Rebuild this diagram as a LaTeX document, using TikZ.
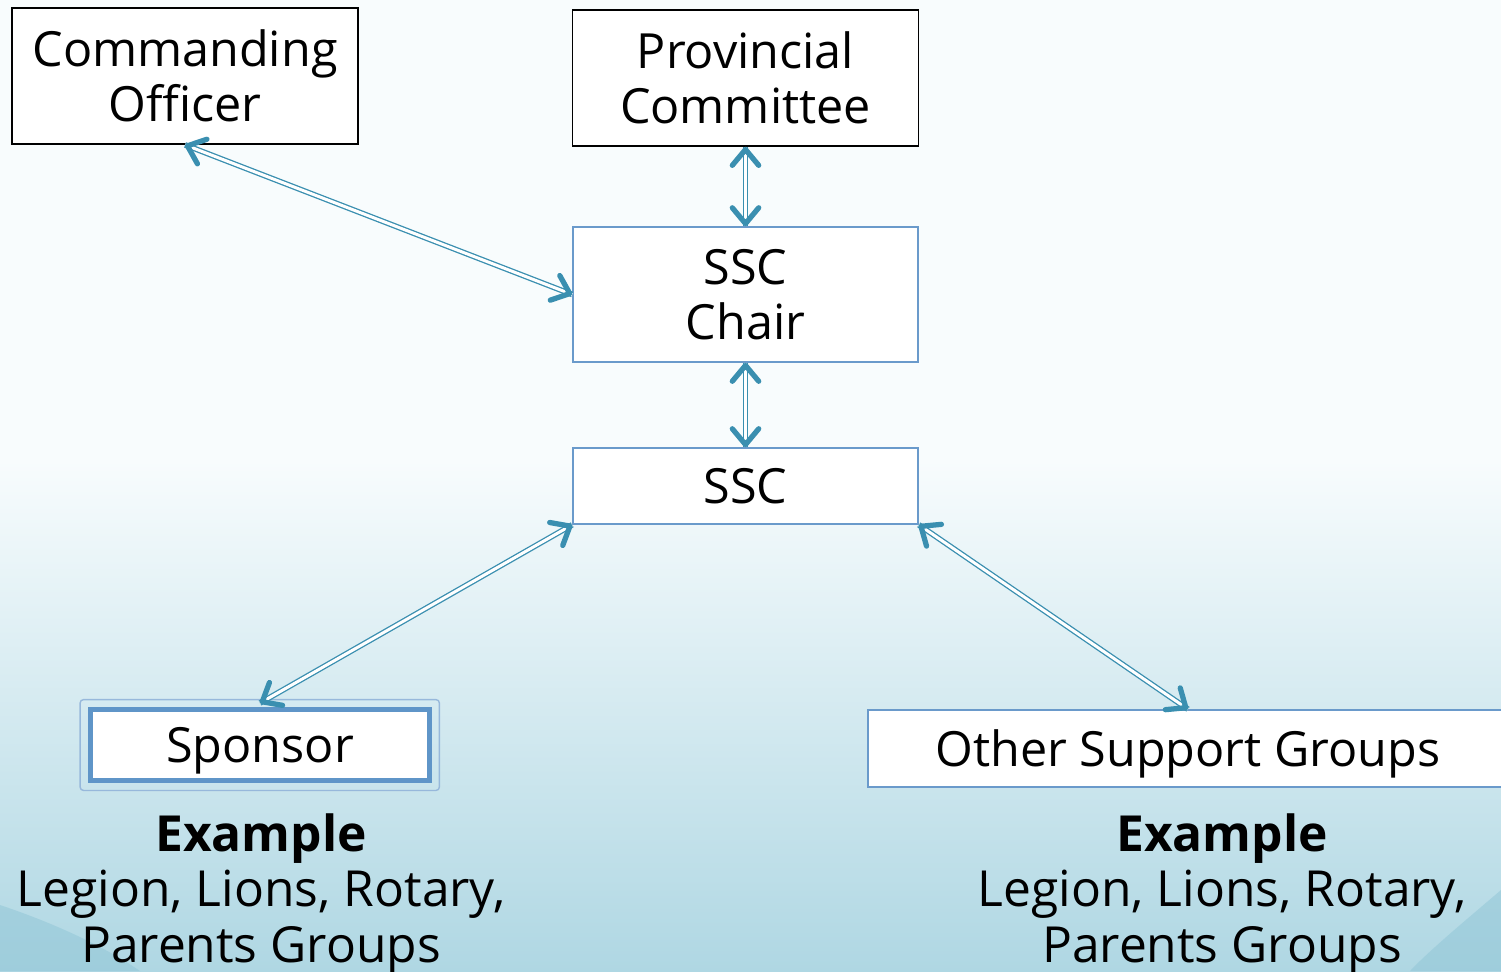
\documentclass[tikz,border=0pt]{standalone}
\usepackage{fontspec}
\setmainfont{Open Sans}
\usetikzlibrary{arrows.meta,positioning}
\definecolor{linkblue}{HTML}{3A8FB0}
\definecolor{boxblue}{HTML}{6A9ACB}
\definecolor{sponsorblue}{HTML}{5F95C8}
\definecolor{skytop}{HTML}{F8FCFD}
\definecolor{skybottom}{HTML}{AFD7E3}
\definecolor{swoosh}{HTML}{8FC5D6}

\begin{document}
\begin{tikzpicture}[x=0.02cm,y=-0.02cm,
  font=\fontsize{27.6}{31.5}\selectfont,
  place/.style={rectangle,fill=white,inner sep=0pt,align=center},
  blackbox/.style={place,draw=black,line width=1pt,minimum width=6.92cm,minimum height=2.72cm},
  bluebox/.style={place,draw=boxblue,line width=0.9pt,minimum width=6.9cm},
  link/.style={tips,linkblue,
    {Straight Barb[length=9pt,width=15pt,line width=3pt,round]}-{Straight Barb[length=9pt,width=15pt,line width=3pt,round]},
    preaction={draw=linkblue,double=white,double distance=1.7pt,line width=0.75pt,-}},
  note/.style={align=center,inner sep=0pt,font=\fontsize{28.3}{31.5}\selectfont}]
	% background
	\useasboundingbox (0,0) rectangle (1501,971);
	\clip (0,0) rectangle (1501,971);
	\fill[skytop] (0,0) rectangle (1501,460);
	\shade[top color=skytop,bottom color=skybottom] (0,460) rectangle (1501,971);
	\fill[swoosh,opacity=0.5] (0,905) .. controls (60,925) and (110,950) .. (140,971) -- (0,971) -- cycle;
	\fill[swoosh,opacity=0.5] (1501,890) .. controls (1460,925) and (1430,950) .. (1410,971) -- (1501,971) -- cycle;

	% boxes
	\node (co)[blackbox] at (185,76) {Commanding\\Officer};
	\node (prov)[blackbox] at (745.5,78) {Provincial\\Committee};
	\node (chair)[bluebox,minimum height=2.7cm] at (745.5,294.5) {SSC\\Chair};
	\node (ssc)[bluebox,minimum height=1.52cm] at (745.5,486) {SSC};
	\node (sponsor)[place,draw=sponsorblue,line width=2.8pt,minimum width=6.78cm,minimum height=1.42cm,text depth=0pt] at (260,745) {Sponsor};
	\draw[boxblue!70,line width=0.8pt,rounded corners=2pt] ([xshift=-0.16cm,yshift=0.15cm]sponsor.north west) rectangle ([xshift=0.15cm,yshift=-0.15cm]sponsor.south east);
	\node (other)[bluebox,minimum width=12.8cm,minimum height=1.54cm,text depth=0pt] at (1188,748.5) {Other Support Groups};

	% examples
	\node (sponsornote)[note] at (261,894) {\textbf{Example}\\Legion, Lions, Rotary,\\Parents Groups};
	\node (othernote)[note] at (1222,894) {\textbf{Example}\\Legion, Lions, Rotary,\\Parents Groups};

	% links
	\path[link] (co.south) -- (chair.west);
	\path[link] (prov.south) -- (chair.north);
	\path[link] (chair.south) -- (ssc.north);
	\path[link] (ssc.south west) -- ([yshift=0.08cm]sponsor.north);
	\path[link] (ssc.south east) -- (other.north);
\end{tikzpicture}
\end{document}
